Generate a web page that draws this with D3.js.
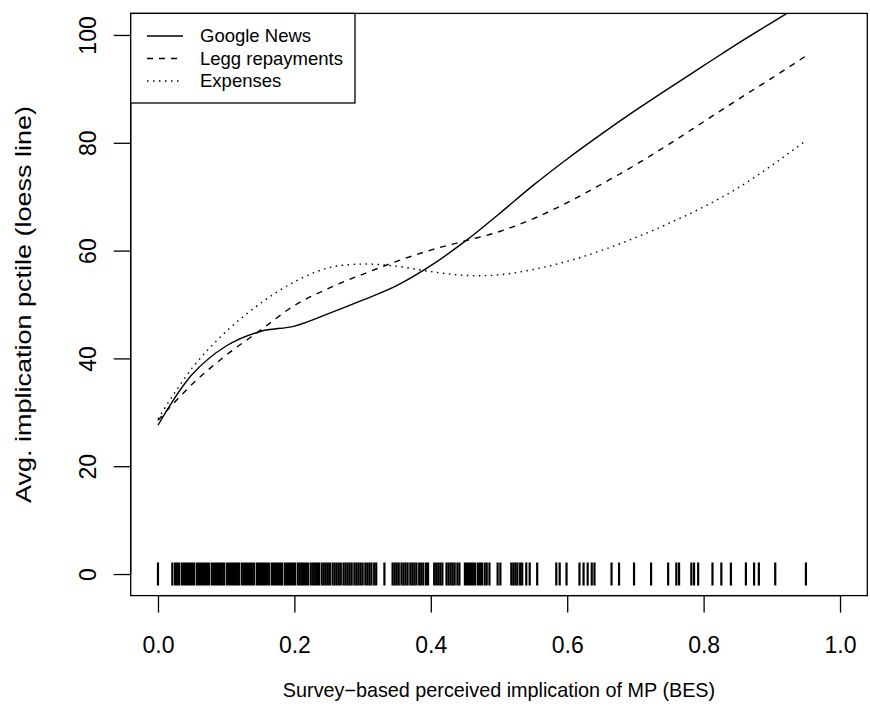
<!DOCTYPE html>
<html><head><meta charset="utf-8">
<script src="https://cdn.jsdelivr.net/npm/d3@7"></script>
<style>body{margin:0;background:#fff}svg{display:block}text{font-family:"Liberation Sans",Arial,Helvetica,sans-serif;fill:#000}</style>
</head><body>
<svg id="c" width="870" height="719"></svg>
<script>
const xGrid = [0, 0.05, 0.1, 0.15, 0.2, 0.25, 0.3, 0.35, 0.4, 0.45, 0.5, 0.55, 0.6, 0.65, 0.7, 0.75, 0.8, 0.85, 0.9, 0.95];
const googleNews = [27.6, 37.0, 42.3, 45.0, 46.0, 48.3, 50.8, 53.5, 57.2, 61.7, 66.8, 72.1, 77.0, 81.6, 86.0, 90.2, 94.3, 98.4, 102.3, 106.1];
const leggRepayments = [28.5, 35.2, 40.6, 45.2, 49.8, 53.0, 55.6, 58.0, 60.1, 61.8, 63.5, 65.9, 68.9, 72.3, 75.9, 79.8, 83.9, 88.0, 92.0, 96.1];
const expenses = [28.8, 38.2, 45.0, 50.2, 54.2, 56.8, 57.5, 57.1, 56.1, 55.4, 55.5, 56.5, 58.0, 60.0, 62.4, 65.1, 68.1, 71.6, 75.8, 80.4];
const rugX = [0.000,
 0.021, 0.025, 0.028, 0.031, 0.035, 0.038, 0.041, 0.044, 0.047, 0.050, 0.053, 0.057, 0.060, 0.063, 0.066, 0.069, 0.072, 0.075, 0.079, 0.082, 0.085, 0.088, 0.091, 0.094, 0.097,
 0.101, 0.104, 0.107, 0.110, 0.113, 0.116, 0.119, 0.123, 0.126, 0.129, 0.132, 0.135, 0.138, 0.141, 0.145, 0.148, 0.151, 0.154, 0.157, 0.160, 0.163, 0.167, 0.170, 0.173, 0.176, 0.179, 0.182, 0.186, 0.189, 0.192, 0.195, 0.198,
 0.201, 0.205, 0.208, 0.211, 0.214, 0.217, 0.220, 0.224, 0.227, 0.230, 0.233, 0.236, 0.240, 0.243, 0.246, 0.249, 0.252, 0.256, 0.259, 0.262, 0.265, 0.268, 0.272, 0.275, 0.278, 0.281, 0.284, 0.288, 0.291, 0.294, 0.297,
 0.300, 0.304, 0.307, 0.310, 0.313, 0.317, 0.320, 0.332, 0.344, 0.347, 0.350, 0.353, 0.357, 0.360, 0.363, 0.366, 0.370, 0.373, 0.376, 0.379, 0.383, 0.386, 0.389, 0.393, 0.396,
 0.405, 0.408, 0.411, 0.414, 0.417, 0.423, 0.426, 0.429, 0.432, 0.435, 0.439, 0.442, 0.450, 0.453, 0.456, 0.459, 0.462, 0.465, 0.469, 0.472, 0.475, 0.479, 0.482, 0.486,
 0.498, 0.502, 0.518, 0.521, 0.524, 0.527, 0.531, 0.534, 0.540, 0.545, 0.556, 0.584, 0.589, 0.599, 0.618, 0.624, 0.630, 0.636, 0.640, 0.665, 0.676, 0.698, 0.723,
 0.748, 0.760, 0.764, 0.782, 0.786, 0.792, 0.813, 0.826, 0.840, 0.862, 0.874, 0.881, 0.905, 0.950];
const xTicks = [0, 0.2, 0.4, 0.6, 0.8, 1.0];
const yTicks = [0, 20, 40, 60, 80, 100];
const seriesNames = ["Google News", "Legg repayments", "Expenses"];

const svg = d3.select("#c");
const x = d3.scaleLinear().domain([-0.04, 1.04]).range([130.7, 867.3]);
const y = d3.scaleLinear().domain([-4, 104]).range([595.6, 13.4]);

svg.append("defs").append("clipPath").attr("id", "clip")
  .append("rect").attr("x", 130.7).attr("y", 13.4).attr("width", 736.6).attr("height", 582.2);

const dashes = [null, "6,6", "1.5,4.5"];
const series = [googleNews, leggRepayments, expenses];
const line = d3.line().x((d, i) => x(xGrid[i])).y(d => y(d)).curve(d3.curveCatmullRom.alpha(0.5));
const g = svg.append("g").attr("clip-path", "url(#clip)");
series.forEach((s, k) => {
  g.append("path").attr("d", line(s)).attr("fill", "none").attr("stroke", "#000")
    .attr("stroke-width", 1.4).attr("stroke-dasharray", dashes[k]);
});

// rug at y=0
g.selectAll(".rug").data(rugX).enter().append("line")
  .attr("x1", d => x(d)).attr("x2", d => x(d))
  .attr("y1", y(0) - 11.5).attr("y2", y(0) + 11.5)
  .attr("stroke", "#000").attr("stroke-width", 2.2);

// box
svg.append("rect").attr("x", 130.7).attr("y", 13.4).attr("width", 736.6).attr("height", 582.2)
  .attr("fill", "none").attr("stroke", "#000").attr("stroke-width", 1.3);

// x axis
const xa = svg.append("g").attr("transform", "translate(0,595.6)")
  .call(d3.axisBottom(x).tickValues(xTicks).tickFormat(d3.format(".1f")).tickSize(17).tickPadding(0));
xa.select(".domain").attr("d", `M${x(0)},0H${x(1)}`).attr("stroke-width", 1.3);
xa.selectAll(".tick line").attr("stroke-width", 1.3);
xa.selectAll(".tick text").attr("font-size", 23).attr("font-family", null)
  .attr("y", 49).attr("dy", "0.35em");

// y axis
const ya = svg.append("g").attr("transform", "translate(130.7,0)")
  .call(d3.axisLeft(y).tickValues(yTicks).tickSize(17).tickPadding(0));
ya.select(".domain").attr("d", `M0,${y(0)}V${y(100)}`).attr("stroke-width", 1.3);
ya.selectAll(".tick line").attr("stroke-width", 1.3);
ya.selectAll(".tick text").attr("font-size", 23).attr("font-family", null)
  .attr("x", null).attr("text-anchor", "middle")
  .attr("transform", "translate(-43,0) rotate(-90)").attr("dy", "0.35em");

// axis titles
svg.append("text").attr("x", x(0.5)).attr("y", 697).attr("text-anchor", "middle")
  .attr("font-size", 19.8).text("Survey\u2212based perceived implication of MP (BES)");
svg.append("text").attr("transform", `translate(23,${(13.4 + 595.6) / 2}) rotate(-90) scale(1,0.82)`)
  .attr("text-anchor", "middle").attr("dy", "0.35em").attr("font-size", 27).text("Avg. implication pctile (loess line)");

// legend
const lg = svg.append("g");
lg.append("rect").attr("x", 130.7).attr("y", 13.4).attr("width", 224.3).attr("height", 89.6)
  .attr("fill", "#fff").attr("stroke", "#000").attr("stroke-width", 1.3);
seriesNames.forEach((n, k) => {
  const yy = 36 + k * 22.5;
  lg.append("line").attr("x1", 147).attr("x2", 183).attr("y1", yy).attr("y2", yy)
    .attr("stroke", "#000").attr("stroke-width", 1.4).attr("stroke-dasharray", dashes[k]);
  lg.append("text").attr("x", 200).attr("y", yy).attr("dy", "0.35em").attr("font-size", 18.5).text(n);
});
</script>
</body></html>
